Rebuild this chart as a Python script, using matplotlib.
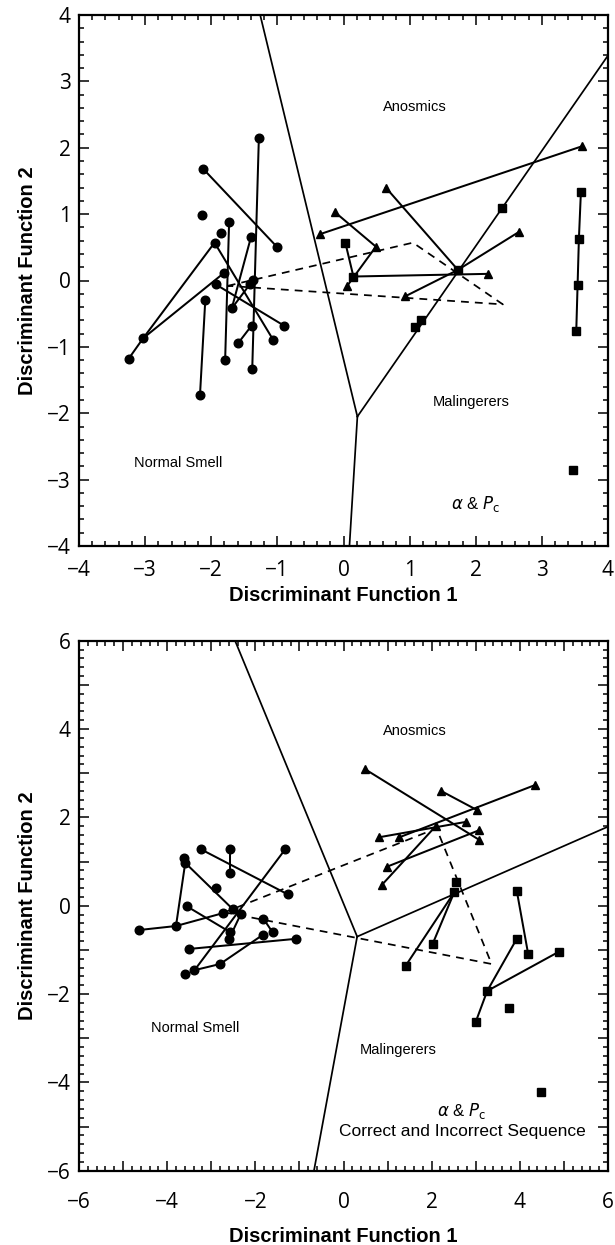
import matplotlib
matplotlib.use("Agg")
import matplotlib.pyplot as plt
from matplotlib.ticker import MultipleLocator, FuncFormatter

plt.rcParams["mathtext.fontset"] = "dejavusans"

# ---- top panel: alpha & Pc ----
top_x = [-1.28, -2.12, -2.14, -1.73, -1.85, -1.95, -1.40, -1.00, -1.80, -1.37, -1.41, -1.93,
         -2.09, -1.69, -1.39, -0.90, -1.59, -1.06, -3.03, -3.25, -1.79, -1.38, -2.17,
         3.60, -0.35, 0.64, -0.13, 0.49, 2.65, 2.18, 0.05, 0.93,
         0.03, 0.15, 1.73, 2.40, 1.17, 1.08, 3.59, 3.56, 3.54, 3.52, 3.47]
top_y = [2.15, 1.68, 0.98, 0.88, 0.72, 0.57, 0.65, 0.50, 0.12, 0.01, -0.05, -0.06,
         -0.29, -0.42, -0.68, -0.68, -0.94, -0.90, -0.87, -1.18, -1.20, -1.33, -1.72,
         2.02, 0.70, 1.40, 1.03, 0.51, 0.73, 0.10, -0.09, -0.24,
         0.56, 0.06, 0.16, 1.09, -0.59, -0.70, 1.33, 0.63, -0.07, -0.76, -2.85]
top_group = ["N"] * 23 + ["A"] * 9 + ["M"] * 11
top_links = [(1, 7), (0, 21), (3, 20), (5, 18), (5, 17), (8, 18), (18, 19), (11, 15),
             (6, 13), (13, 10), (12, 22), (14, 16),
             (23, 24), (25, 34), (26, 27), (27, 30), (32, 33), (33, 29), (34, 28), (34, 31),
             (38, 39), (39, 40), (40, 41)]
top_bound_vertex = (0.21, -2.05)
top_bound_ends = [(-1.26, 4.0), (0.09, -4.0), (4.0, 3.39)]
top_centroids = [(-1.75, -0.08), (1.05, 0.57), (2.41, -0.36)]

# ---- bottom panel: alpha & Pc, correct and incorrect sequence ----
bot_x = [-3.24, -2.58, -1.32, -3.62, -3.59, -2.58, -2.90, -1.27, -3.56, -2.51, -2.74, -2.33,
         -4.63, -3.80, -1.82, -1.61, -2.57, -2.60, -1.83, -1.08, -3.51, -2.80, -3.38, -3.60,
         0.49, 4.34, 2.21, 3.02, 2.79, 2.10, 3.08, 3.08, 0.81, 1.27, 0.98, 0.87,
         2.55, 2.51, 3.93, 2.02, 1.41, 3.93, 4.19, 4.89, 3.26, 3.76, 3.00, 4.47]
bot_y = [1.28, 1.28, 1.28, 1.07, 0.97, 0.75, 0.39, 0.26, -0.01, -0.08, -0.17, -0.19,
         -0.55, -0.46, -0.29, -0.60, -0.60, -0.76, -0.66, -0.75, -0.98, -1.32, -1.46, -1.54,
         3.09, 2.73, 2.60, 2.17, 1.90, 1.81, 1.71, 1.49, 1.55, 1.55, 0.88, 0.47,
         0.54, 0.30, 0.34, -0.87, -1.36, -0.75, -1.10, -1.04, -1.93, -2.31, -2.63, -4.22]
bot_group = ["N"] * 24 + ["A"] * 12 + ["M"] * 12
bot_links = [(0, 7), (1, 5), (2, 22), (4, 13), (4, 9), (12, 13), (13, 10), (8, 16),
             (11, 17), (14, 15), (20, 19), (18, 21), (21, 22),
             (24, 31), (26, 27), (25, 33), (32, 28), (29, 35), (34, 30),
             (37, 40), (37, 39), (38, 42), (41, 44), (44, 46), (44, 43)]
bot_bound_vertex = (0.31, -0.70)
bot_bound_ends = [(-2.46, 6.0), (-0.67, -6.0), (6.0, 1.79)]
bot_centroids = [(-2.70, -0.15), (2.11, 1.75), (3.36, -1.32)]

MARKERS = {"N": ("o", 6.2), "A": ("^", 6.4), "M": ("s", 5.6)}
TEXT_FONT = ["Liberation Sans", "DejaVu Sans"]
TICK_FONT = ["Open Sans", "DejaVu Sans"]


def draw_panel(ax, xs, ys, groups, links, vertex, ends, cents, lim, even_only, labels):
    for a, b in links:
        ax.plot([xs[a], xs[b]], [ys[a], ys[b]], color="black", lw=1.45, zorder=3)
    for ex, ey in ends:
        ax.plot([vertex[0], ex], [vertex[1], ey], color="black", lw=1.25, zorder=2)
    cx = [c[0] for c in cents] + [cents[0][0]]
    cy = [c[1] for c in cents] + [cents[0][1]]
    ax.plot(cx, cy, color="black", lw=1.25, ls=(0, (4.5, 3.5)), zorder=2)
    for g, (m, ms) in MARKERS.items():
        gx = [x for x, gg in zip(xs, groups) if gg == g]
        gy = [y for y, gg in zip(ys, groups) if gg == g]
        ax.plot(gx, gy, ls="none", marker=m, ms=ms, color="black", zorder=4)

    for txt, x, y, size in labels:
        ax.text(x, y, txt, ha="center", va="center", fontsize=size,
                family=TEXT_FONT, zorder=5)

    ax.set_xlim(-lim, lim)
    ax.set_ylim(-lim, lim)
    ax.xaxis.set_major_locator(MultipleLocator(1))
    ax.yaxis.set_major_locator(MultipleLocator(1))
    ax.xaxis.set_minor_locator(MultipleLocator(0.2))
    ax.yaxis.set_minor_locator(MultipleLocator(0.2))
    if even_only:
        fmt = FuncFormatter(lambda v, p: "" if round(v) % 2 else f"{int(round(v))}".replace("-", "\u2212"))
    else:
        fmt = FuncFormatter(lambda v, p: f"{int(round(v))}".replace("-", "\u2212"))
    ax.xaxis.set_major_formatter(fmt)
    ax.yaxis.set_major_formatter(fmt)
    ax.tick_params(which="both", direction="in", top=True, right=True, width=1.1)
    ax.tick_params(which="major", length=7)
    ax.tick_params(which="minor", length=3.4)
    ax.tick_params(axis="y", pad=6)
    for lab in ax.get_xticklabels() + ax.get_yticklabels():
        lab.set_family(TICK_FONT)
        lab.set_fontsize(15)
    for sp in ax.spines.values():
        sp.set_linewidth(1.6)


fig = plt.figure(figsize=(6.15, 12.45), dpi=100)
W, H = 615.0, 1245.0
ax1 = fig.add_axes([79 / W, 1 - 546 / H, 529 / W, 531 / H])
ax2 = fig.add_axes([79 / W, 1 - 1170.7 / H, 529 / W, 530 / H])

alpha_pc = r"$\alpha$ & $P_{\mathrm{c}}$"
top_labels = [("Anosmics", 1.08, 2.62, 10.5),
              ("Malingerers", 1.93, -1.83, 10.5),
              ("Normal Smell", -2.50, -2.75, 10.5),
              (alpha_pc, 1.99, -3.37, 12)]
bot_labels = [("Anosmics", 1.62, 3.96, 10.5),
              ("Malingerers", 1.23, -3.27, 10.5),
              ("Normal Smell", -3.37, -2.78, 10.5),
              (alpha_pc, 2.68, -4.64, 12),
              ("Correct and Incorrect Sequence", 2.70, -5.12, 12.5)]

draw_panel(ax1, top_x, top_y, top_group, top_links, top_bound_vertex, top_bound_ends,
           top_centroids, 4, False, top_labels)
draw_panel(ax2, bot_x, bot_y, bot_group, bot_links, bot_bound_vertex, bot_bound_ends,
           bot_centroids, 6, True, bot_labels)
ax1.tick_params(axis="x", pad=10)
ax2.tick_params(axis="x", pad=15)

# axis titles placed in figure pixels
for base_x, cy in [(601, 280.5), (1241.7, 905.7)]:
    fig.text(343.5 / W, 1 - base_x / H, "Discriminant Function 1", ha="center", va="baseline",
             fontsize=14.5, fontweight="bold", family=TEXT_FONT)
    fig.text(33 / W, 1 - cy / H, "Discriminant Function 2", ha="center", va="baseline",
             rotation=90, rotation_mode="anchor", fontsize=14.5, fontweight="bold",
             family=TEXT_FONT)

fig.savefig("out.png", dpi=100)
